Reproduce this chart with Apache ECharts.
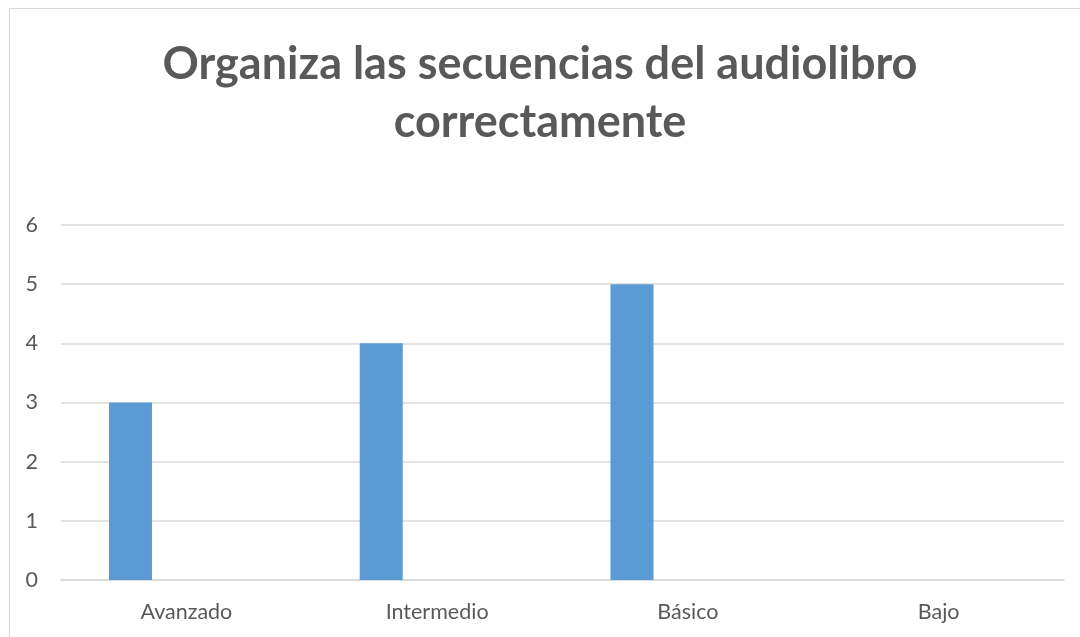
<!DOCTYPE html>
<html>
<head>
<meta charset="utf-8">
<script src="https://cdn.jsdelivr.net/npm/echarts@6/dist/echarts.min.js"></script>
<style>
html,body{margin:0;padding:0;background:#fff;}
#frame{position:absolute;left:9px;top:8px;width:1100px;height:700px;border:1.5px solid #d9d9d9;box-sizing:border-box;}
#chart{position:absolute;left:0;top:0;width:1080px;height:637px;}
</style>
</head>
<body>
<div id="frame"></div>
<div id="chart"></div>
<script>
const categories = ["Avanzado", "Intermedio", "Básico", "Bajo"];
const seriesValues = [3, 4, 5, 0];
const emptyValues2 = ["-", "-", "-", "-"];
const emptyValues3 = ["-", "-", "-", "-"];
const titleText = "Organiza las secuencias del audiolibro\ncorrectamente";

const chart = echarts.init(document.getElementById('chart'));
const textColor = '#595959';
const fontFam = 'Lato';
chart.setOption({
  animation: false,
  title: {
    text: titleText,
    left: 'center',
    top: 30,
    textStyle: {
      fontFamily: fontFam,
      fontWeight: 'bold',
      fontSize: 45,
      lineHeight: 58,
      color: textColor
    }
  },
  grid: { left: 61, right: 16, top: 225, bottom: 57, containLabel: false },
  xAxis: {
    type: 'category',
    data: categories,
    axisLine: { show: true, lineStyle: { color: '#d9d9d9', width: 1.5 } },
    axisTick: { show: false },
    axisLabel: { color: textColor, fontSize: 21.5, fontFamily: fontFam, margin: 21 }
  },
  yAxis: {
    type: 'value',
    min: 0, max: 6, interval: 1,
    axisLine: { show: false },
    axisTick: { show: false },
    splitLine: { lineStyle: { color: '#d9d9d9', width: 1.5 } },
    axisLabel: { color: textColor, fontSize: 21.5, fontFamily: fontFam, margin: 23 }
  },
  series: [
    { type: 'bar', data: seriesValues, barWidth: 43, barGap: '30%', itemStyle: { color: '#5b9bd5' } },
    { type: 'bar', data: emptyValues2, barWidth: 43, barGap: '30%', itemStyle: { color: '#ed7d31' } },
    { type: 'bar', data: emptyValues3, barWidth: 43, barGap: '30%', itemStyle: { color: '#a5a5a5' } }
  ]
});
</script>
</body>
</html>
